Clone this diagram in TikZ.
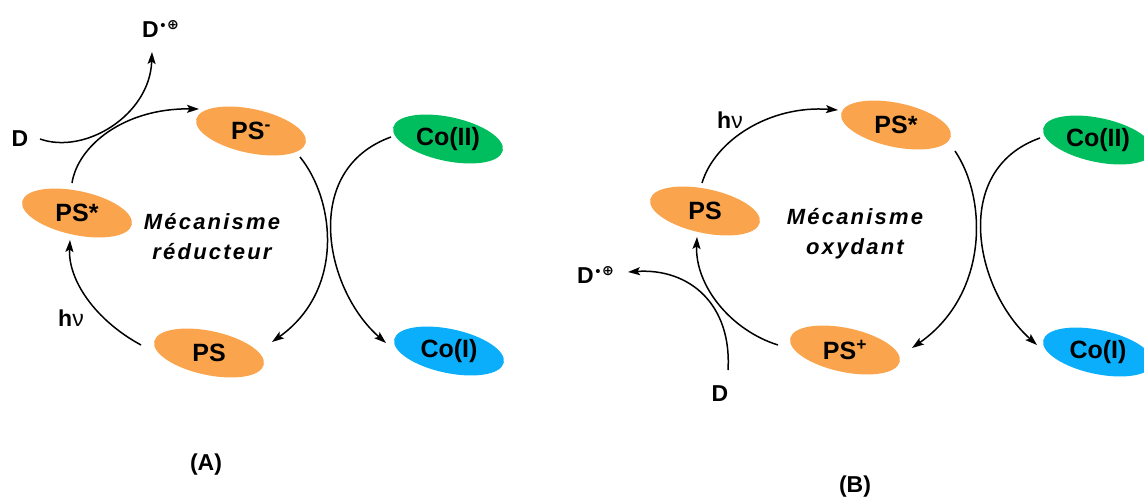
\documentclass[tikz,border=0pt]{standalone}
\usepackage{fontspec}
\setmainfont{Liberation Sans}
\newfontfamily\dejavu{DejaVu Sans}
\usetikzlibrary{arrows.meta,shapes.geometric,calc}
\definecolor{psor}{RGB}{250,165,77}
\definecolor{cogreen}{RGB}{0,190,94}
\definecolor{coblue}{RGB}{10,174,250}
\newcommand{\radcat}{\kern1.5pt\raisebox{7pt}{\fontsize{15}{15}\selectfont\mdseries •}\kern1.5pt\raisebox{8pt}{\dejavu\fontsize{14}{14}\selectfont ⊕}}
\begin{document}
\begin{tikzpicture}[x=1pt,y=-1pt,
  blob/.style={ellipse, minimum width=112pt, minimum height=44pt, rotate=-12, inner sep=0pt, draw=none},
  lbl/.style={font=\fontsize{23}{23}\selectfont\bfseries, inner sep=0pt},
  inlbl/.style={font=\fontsize{25}{25}\selectfont\bfseries, inner sep=0pt},
  arr/.style={line width=1.5pt, -{Stealth[length=12pt,width=8pt,inset=2.5pt]}},
  mech/.style={font=\fontsize{22}{30}\selectfont\bfseries\itshape\addfontfeature{LetterSpace=10}, align=center, inner sep=0pt}
]
\useasboundingbox (0,0) rectangle (1144,498);
\clip (0,0) rectangle (1144,498);

% ---------- (A) ----------
\node[blob, fill=psor] (PSmA) at (251,131) {};
\node[inlbl] (tPSmA) at (PSmA) {PS\textsuperscript{-}};
\node[blob, fill=psor] (PSsA) at (77,213) {};
\node[inlbl] (tPSsA) at (PSsA) {PS*};
\node[blob, fill=psor] (PSA) at (209,353) {};
\node[inlbl] (tPSA) at (PSA) {PS};
\node[blob, fill=cogreen] (CoIIA) at (448,139) {};
\node[inlbl] (tCoIIA) at (CoIIA) {Co(II)};
\node[blob, fill=coblue] (CoIA) at (449,351) {};
\node[inlbl] (tCoIA) at (CoIA) {Co(I)};

\node[lbl] (DA) at (20,139) {D};
\node[lbl, anchor=base west] (DpA) at (142,37) {D\radcat};
\node[lbl] (hvA) at (71,318) {h{\mdseries ν}};
\node[mech] (mA) at (212,237) {Mécanisme\\réducteur};
\node[lbl] (labA) at (206,465) {(A)};

\draw[arr] ($(PSA)+(-68,-8)$) .. controls +(-46,-25) and +(-2,40) .. ($(PSsA)+(-7,27)$);
\draw[arr] ($(PSsA)+(-5,-30)$) .. controls +(6,-38) and +(-74,-1) .. ($(PSmA)+(-52,-22)$);
\draw[arr] ($(DA)+(20,0)$) .. controls +(45,16) and +(-2,63) .. ($(DpA.base west)+(10,15)$);
\draw[arr] ($(PSmA)+(49,26)$) .. controls +(35,43) and +(73,-52) .. ($(PSA)+(63,-11)$);
\draw[arr] ($(CoIIA)+(-57,-2)$) .. controls +(-91,33) and +(-61,-53) .. ($(CoIA)+(-63,-8)$);

% ---------- (B) ----------
\node[blob, fill=psor] (PSB) at (705,211) {};
\node[inlbl] (tPSB) at (PSB) {PS};
\node[blob, fill=psor] (PSsB) at (896,125) {};
\node[inlbl] (tPSsB) at (PSsB) {PS*};
\node[blob, fill=psor] (PSpB) at (845,350) {};
\node[inlbl] (tPSpB) at (PSpB) {PS\textsuperscript{+}};
\node[blob, fill=cogreen] (CoIIB) at (1098,140) {};
\node[inlbl] (tCoIIB) at (CoIIB) {Co(II)};
\node[blob, fill=coblue] (CoIB) at (1098,352) {};
\node[inlbl] (tCoIB) at (CoIB) {Co(I)};

\node[lbl] (DB) at (720,394) {D};
\node[lbl, anchor=base west] (DpB) at (577,283) {D\radcat};
\node[lbl] (hvB) at (730,120) {h{\mdseries ν}};
\node[mech] (mB) at (855,234) {Mécanisme\\oxydant};
\node[lbl] (labB) at (855,487) {(B)};

\draw[arr] ($(PSB)+(-3,-28)$) .. controls +(13,-43) and +(-68,-5) .. ($(PSsB)+(-58,-15)$);
\draw[arr] ($(PSpB)+(-67,-5)$) .. controls +(-48,-15) and +(-2,48) .. ($(PSB)+(-8,26)$);
\draw[arr] ($(DB)+(8,-24)$) .. controls +(4,-65) and +(62,-4) .. ($(DpB.base west)+(51,-11)$);
\draw[arr] ($(PSsB)+(59,26)$) .. controls +(33,49) and +(76,-53) .. ($(PSpB)+(67,-2)$);
\draw[arr] ($(CoIIB)+(-58,-2)$) .. controls +(-90,32) and +(-62,-55) .. ($(CoIB)+(-61,-7)$);
\end{tikzpicture}
\end{document}
